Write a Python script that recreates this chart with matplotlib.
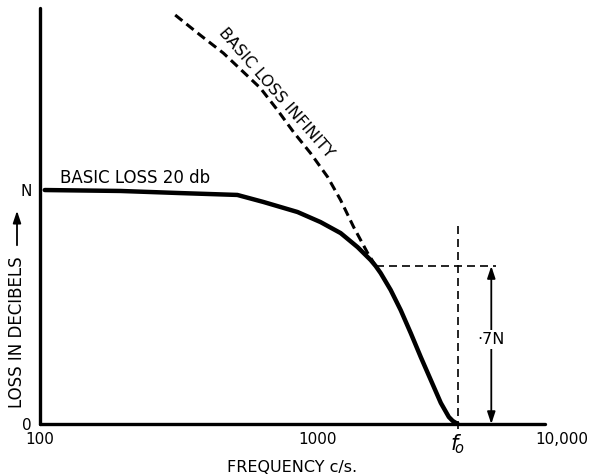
import matplotlib
matplotlib.use("Agg")
import matplotlib.pyplot as plt
import matplotlib.patches as mpatches
import matplotlib.ticker as mticker

# ---- data ----
# Basic loss 20 db curve (frequency c/s, loss as a fraction of N)
loss20_freq = [104, 195, 320, 514, 638, 847, 1025, 1211, 1394, 1553, 1620, 1688, 1834,
               1993, 2166, 2355, 2559, 2781, 2972, 3070, 3200]
loss20_val  = [1.0, 0.996, 0.987, 0.979, 0.949, 0.906, 0.863, 0.816, 0.756, 0.701, 0.675,
               0.645, 0.573, 0.487, 0.389, 0.286, 0.188, 0.090, 0.030, 0.013, 0.0]

# Basic loss infinity curve
lossinf_freq = [307, 378, 458, 541, 622, 717, 819, 943, 1087, 1211, 1349, 1515, 1620]
lossinf_val  = [1.748, 1.662, 1.585, 1.504, 1.436, 1.342, 1.248, 1.158, 1.056, 0.957,
                0.842, 0.731, 0.675]

f0 = 3200             # cut-off frequency
level_07 = 0.675      # ".7N" level
meet_freq = 1620      # where the .7N dashed line starts
f0_line_top = 0.86
h_line_end = 4405
arrow_x = 4227
label_07_y = 0.36

xticks = [100, 1000, f0]
xticklabels = ["100", "1000", r"$f_{\!o}$"]
yticks = [0, 1.0]
yticklabels = ["0", "N"]

# ---- figure ----
W, H = 593, 476
fig = plt.figure(figsize=(W / 100, H / 100), dpi=100)
ax = fig.add_axes([40 / W, 1 - 424 / H, 505 / W, 416 / H])
ax.set_xscale("log")
ax.set_xlim(100, 6600)
ax.set_ylim(0, 1.778)

for s in ["top", "right"]:
    ax.spines[s].set_visible(False)
for s in ["left", "bottom"]:
    ax.spines[s].set_linewidth(2.4)
    ax.spines[s].set_capstyle("round")

ax.plot(loss20_freq, loss20_val, color="black", lw=3.2, solid_capstyle="round",
        solid_joinstyle="round", zorder=5)
ax.plot(lossinf_freq, lossinf_val, color="black", lw=2.2, dashes=(3.0, 1.7), zorder=4)

# f0 vertical dashed and .7N horizontal dashed lines
ax.plot([f0, f0], [-0.02, f0_line_top], color="black", lw=1.2, dashes=(4.8, 3.0),
        clip_on=False, zorder=3)
ax.plot([meet_freq, h_line_end], [level_07, level_07], color="black", lw=1.2,
        dashes=(4.8, 3.0), zorder=3)

# double arrow with .7N label
ax.annotate("", xy=(arrow_x, 0.0), xytext=(arrow_x, level_07),
            arrowprops=dict(arrowstyle="<|-|>,head_length=0.6,head_width=0.2", lw=1.3,
                            color="black", mutation_scale=12, shrinkA=0, shrinkB=0))
ax.text(arrow_x, label_07_y, "·7N", ha="center", va="center", fontsize=11.5,
        bbox=dict(facecolor="white", edgecolor="none", pad=1.5), zorder=6)

# curve labels
ax.text(118, 1.051, "BASIC LOSS 20 db", ha="left", va="center", fontsize=12)
ax.text(711, 1.415, "BASIC LOSS INFINITY", ha="center", va="center", fontsize=11.5,
        rotation=-49, rotation_mode="anchor")

# ticks
ax.set_xticks(xticks)
ax.set_xticklabels(xticklabels)
ax.xaxis.set_minor_locator(mticker.NullLocator())
ax.set_yticks(yticks)
ax.set_yticklabels(yticklabels)
ax.tick_params(axis="both", length=0, labelsize=11)
ax.tick_params(axis="x", pad=6)
ax.tick_params(axis="y", pad=6)
for lab in ax.get_xticklabels():
    if "f" in lab.get_text():
        lab.set_fontsize(15)
ax.annotate("10,000", xy=(1.034, 0), xycoords="axes fraction", xytext=(0, -11),
            textcoords="offset points", ha="center", va="center", fontsize=11)

ax.set_xlabel("FREQUENCY c/s.", fontsize=11.5, labelpad=3)

# y label with upward arrow
fig.text(17 / W, 1 - 332 / H, "LOSS IN DECIBELS", rotation=90, ha="center",
         va="center", fontsize=12)
fig.add_artist(mpatches.FancyArrowPatch(
    (17 / W, 1 - 248 / H), (17 / W, 1 - 208 / H), transform=fig.transFigure,
    arrowstyle="-|>,head_length=0.6,head_width=0.2", mutation_scale=12, lw=1.3,
    color="black"))

fig.savefig("out.png", dpi=100)
